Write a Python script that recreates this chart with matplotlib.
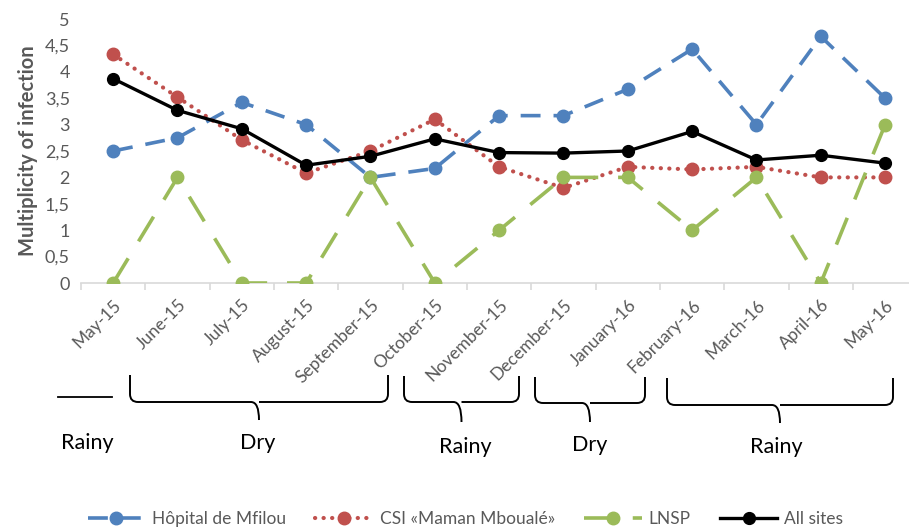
"""Multiplicity of infection per month and site, with season braces."""

import matplotlib as mpl
import matplotlib.pyplot as plt
from matplotlib.path import Path
from matplotlib.patches import PathPatch
from matplotlib.ticker import FixedLocator, FuncFormatter

months = ["May-15", "June-15", "July-15", "August-15", "September-15", "October-15",
          "November-15", "December-15", "January-16", "February-16", "March-16",
          "April-16", "May-16"]

hopital = [2.5, 2.75, 3.42, 3.0, 2.0, 2.17, 3.17, 3.17, 3.67, 4.43, 3.0, 4.67, 3.5]
csi = [4.33, 3.52, 2.71, 2.08, 2.5, 3.1, 2.2, 1.8, 2.2, 2.15, 2.2, 2.0, 2.0]
lnsp = [0, 2, 0, 0, 2, 0, 1, 2, 2, 1, 2, 0, 3]
all_sites = [3.87, 3.27, 2.92, 2.23, 2.4, 2.73, 2.47, 2.46, 2.5, 2.87, 2.33, 2.42, 2.27]

series_names = ["Hôpital de Mfilou", "CSI «Maman Mboualé»", "LNSP", "All sites"]

seasons = ["Rainy", "Dry", "Rainy", "Dry", "Rainy"]

COLORS = {
    "hopital": "#4F81BD",
    "csi": "#C0504D",
    "lnsp": "#9BBB59",
    "all": "#000000",
    "text": "#595959",
    "axis": "#D9D9D9",
}

W, H = 909, 528

mpl.rcParams.update({
    "font.family": ["Lato", "DejaVu Sans"],
})

fig = plt.figure(figsize=(W / 100, H / 100), dpi=100)
x0_px, x1_px = 81, 909
y0_px, y1_px = 283, 19
ax = fig.add_axes([x0_px / W, 1 - y0_px / H, (x1_px - x0_px) / W, (y0_px - y1_px) / H])

x = list(range(len(months)))
ax.plot(x, hopital, color=COLORS["hopital"], lw=2.6, ls=(0, (5.5, 3.6)),
        marker="o", ms=9, label=series_names[0], zorder=2)
ax.plot(x, csi, color=COLORS["csi"], lw=3.0, ls=(0, (0.05, 2.0)),
        dash_capstyle="round", marker="o", ms=9, label=series_names[1], zorder=3)
ax.plot(x, lnsp, color=COLORS["lnsp"], lw=2.6, ls=(0, (8, 5.5)),
        marker="o", ms=9, label=series_names[2], zorder=4)
ax.plot(x, all_sites, color=COLORS["all"], lw=2.4, ls="-",
        marker="o", ms=8.5, label=series_names[3], zorder=5)

ax.set_xlim(-0.5, -0.5 + (x1_px - x0_px) / 64.33)
ax.set_ylim(0, 5)
for s in ["top", "right", "left"]:
    ax.spines[s].set_visible(False)
ax.spines["bottom"].set_color(COLORS["axis"])
ax.spines["bottom"].set_linewidth(1.2)

ax.set_yticks([i * 0.5 for i in range(11)])
ax.yaxis.set_major_formatter(FuncFormatter(lambda v, _: f"{v:g}".replace(".", ",")))
ax.tick_params(axis="y", length=0, labelsize=13, labelcolor=COLORS["text"], pad=8)

ax.set_xticks(x)
ax.set_xticklabels(months, rotation=45, ha="right", va="top", rotation_mode="anchor")
ax.tick_params(axis="x", which="major", length=0, labelsize=12.5,
               labelcolor=COLORS["text"], pad=10)
ax.xaxis.set_minor_locator(FixedLocator([i + 0.5 for i in range(-1, len(months))]))
ax.tick_params(axis="x", which="minor", length=5, color=COLORS["axis"], width=1.2)

ax.set_ylabel("Multiplicity of infection", fontsize=14.5, fontweight="bold",
              color=COLORS["text"], labelpad=5)


def brace(x_left, x_right, y_top, y_mid, y_tip, r=8):
    xc = (x_left + x_right) / 2
    pts = [
        (x_left, y_top), (x_left, y_mid - r), (x_left, y_mid), (x_left + r, y_mid),
        (xc - r, y_mid), (xc, y_mid), (xc, y_tip),
        (xc, y_mid), (xc + r, y_mid),
        (x_right - r, y_mid), (x_right, y_mid), (x_right, y_mid - r), (x_right, y_top),
    ]
    codes = [Path.MOVETO, Path.LINETO, Path.CURVE3, Path.CURVE3,
             Path.LINETO, Path.CURVE3, Path.CURVE3,
             Path.MOVETO, Path.CURVE3,
             Path.LINETO, Path.CURVE3, Path.CURVE3, Path.LINETO]
    verts = [(px / W, 1 - py / H) for px, py in pts]
    fig.add_artist(PathPatch(Path(verts, codes), fill=False, lw=1.4,
                             edgecolor="black", transform=fig.transFigure))


# short bar for the first rainy month
fig.add_artist(plt.Line2D([58 / W, 112 / W], [1 - 397 / H] * 2, color="black", lw=1.3))
brace(130, 388, 375, 402, 420)
brace(404, 519, 376, 402, 422)
brace(535, 645, 377, 403, 422)
brace(667, 893, 378, 405, 423)

season_x = [87, 258, 465, 590, 776]
season_y = [443, 443, 447, 445, 447]
for name, sx, sy in zip(seasons, season_x, season_y):
    fig.text(sx / W, 1 - sy / H, name, ha="center", va="center", fontsize=15.5)

fig.legend(loc="center", bbox_to_anchor=(0.512, 1 - 519 / H), ncol=4, frameon=False,
           fontsize=12.5, handlelength=3.3, columnspacing=1.7, handletextpad=0.4,
           labelcolor=COLORS["text"])

fig.savefig("out.png", dpi=100)
